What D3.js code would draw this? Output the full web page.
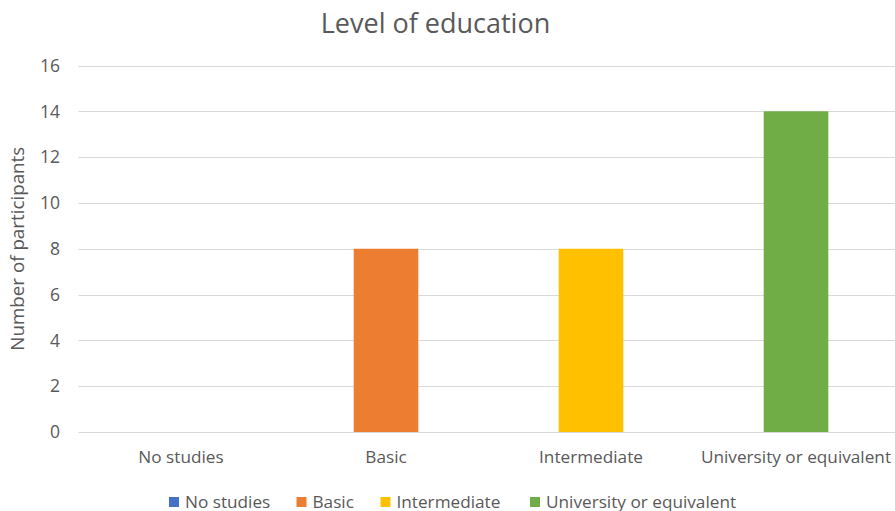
<!DOCTYPE html>
<html>
<head>
<meta charset="utf-8">
<script src="https://cdn.jsdelivr.net/npm/d3@7/dist/d3.min.js"></script>
<style>
  html, body { margin: 0; padding: 0; background: #fff; }
  svg { display: block; font-family: "Open Sans", sans-serif; }
</style>
</head>
<body>
<svg id="chart" width="895" height="511"></svg>
<script>
// Education level of participants
const categories = ["No studies", "Basic", "Intermediate", "University or equivalent"];
const participants = [0, 8, 8, 14];
const colors = ["#4472C4", "#ED7D31", "#FFC000", "#70AD47"];
const yTicks = [0, 2, 4, 6, 8, 10, 12, 14, 16];

const svg = d3.select("#chart");
const W = 895, H = 511;
const margin = { left: 78.5, right: -3.5, top: 65.5, bottom: 79 };
const textColor = "#595959";

const x = d3.scaleBand().domain(categories).range([margin.left, W - margin.right]).padding(0);
const y = d3.scaleLinear().domain([0, 16]).range([H - margin.bottom, margin.top]);

// Gridlines
svg.append("g")
  .selectAll("line")
  .data(yTicks)
  .join("line")
  .attr("x1", margin.left)
  .attr("x2", W)
  .attr("y1", d => Math.round(y(d)) + 0.5)
  .attr("y2", d => Math.round(y(d)) + 0.5)
  .attr("stroke", "#d9d9d9")
  .attr("stroke-width", 1);

// Y tick labels
svg.append("g")
  .selectAll("text")
  .data(yTicks)
  .join("text")
  .attr("x", 60)
  .attr("y", d => y(d))
  .attr("dy", "0.36em")
  .attr("text-anchor", "end")
  .attr("font-size", 17.5)
  .attr("fill", textColor)
  .text(d => d);

// Bars
const barW = x.bandwidth() * 0.315;
svg.append("g")
  .selectAll("rect")
  .data(categories.map((c, i) => ({ c, v: participants[i], color: colors[i] })))
  .join("rect")
  .attr("x", d => x(d.c) + x.bandwidth() / 2 - barW / 2)
  .attr("y", d => y(d.v))
  .attr("width", barW)
  .attr("height", d => y(0) - y(d.v))
  .attr("fill", d => d.color);

// Category labels
svg.append("g")
  .selectAll("text")
  .data(categories)
  .join("text")
  .attr("x", d => x(d) + x.bandwidth() / 2)
  .attr("y", 463)
  .attr("text-anchor", "middle")
  .attr("font-size", 17.2)
  .attr("fill", textColor)
  .text(d => d);

// Title
svg.append("text")
  .attr("x", 435.5)
  .attr("y", 33)
  .attr("text-anchor", "middle")
  .attr("font-size", 27)
  .attr("fill", textColor)
  .text("Level of education");

// Y axis title
svg.append("text")
  .attr("transform", `translate(24, ${(y(0) + y(16)) / 2}) rotate(-90)`)
  .attr("text-anchor", "middle")
  .attr("font-size", 18.8)
  .attr("fill", textColor)
  .text("Number of participants");

// Legend
const legendX = [169, 296.5, 380.5, 530];
const legend = svg.append("g")
  .selectAll("g")
  .data(categories)
  .join("g")
  .attr("transform", (d, i) => `translate(${legendX[i]}, 497)`);
legend.append("rect")
  .attr("width", 10)
  .attr("height", 10)
  .attr("fill", (d, i) => colors[i]);
legend.append("text")
  .attr("x", 16)
  .attr("y", 10.5)
  .attr("font-size", 17.2)
  .attr("fill", textColor)
  .text(d => d);
</script>
</body>
</html>
